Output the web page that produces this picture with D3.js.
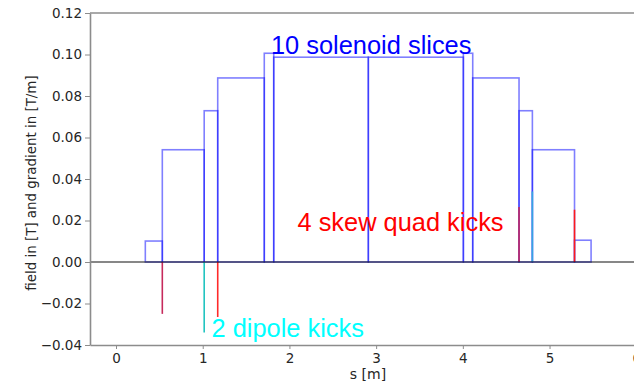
<!DOCTYPE html>
<html>
<head>
<meta charset="utf-8">
<script src="https://cdn.jsdelivr.net/npm/d3@7/dist/d3.min.js"></script>
<style>
  html, body { margin: 0; padding: 0; background: #fff; }
  svg { display: block; }
</style>
</head>
<body>
<svg id="chart" width="634" height="383"></svg>
<script>
// ---- data ----
const sliceStart = [0.338, 0.534, 1.017, 1.173, 1.710, 1.819, 2.910, 4.006, 4.114, 4.648, 4.802, 5.288];
const sliceEnd   = [0.534, 1.017, 1.173, 1.710, 1.819, 2.910, 4.006, 4.114, 4.648, 4.802, 5.288, 5.479];
const sliceField = [0.0101, 0.0541, 0.0729, 0.0887, 0.1006, 0.0987, 0.0987, 0.1006, 0.0887, 0.0729, 0.0541, 0.0105];

const dipoleS = [1.017, 4.802];
const dipoleK = [-0.034, 0.034];
const dipoleColor = ["#22c4c0", "#36a6e0"];

const skewS = [0.534, 1.173, 4.648, 5.288];
const skewK = [-0.025, -0.0265, 0.0265, 0.0252];
const skewColor = ["#c62a5c", "#ff2a2a", "#c62a5c", "#ff1a1a"];

const xTicks = [0, 1, 2, 3, 4, 5, 6];
const yTicks = [-0.04, -0.02, 0.00, 0.02, 0.04, 0.06, 0.08, 0.10, 0.12];
const yTickLabels = ["\u22120.04", "\u22120.02", "0.00", "0.02", "0.04", "0.06", "0.08", "0.10", "0.12"];

const labels = {
  solenoid: "10 solenoid slices",
  skew: "4 skew quad kicks",
  dipole: "2 dipole kicks",
  xLabel: "s [m]",
  yLabel: "field in [T] and gradient in [T/m]"
};

// ---- scales ----
const svg = d3.select("#chart");
const x = d3.scaleLinear().domain([-0.30, 6.35]).range([90, 666.6]);
const y = d3.scaleLinear().domain([-0.04, 0.12]).range([345, 13]);

const tickFont = "DejaVu Sans, sans-serif";
const annFont = "Liberation Sans, Arial, sans-serif";
const spineColor = "#8c8c8c";

// ---- solenoid slices (rectangles) ----
svg.append("g").selectAll("rect")
  .data(sliceField.map((f, i) => ({ s0: sliceStart[i], s1: sliceEnd[i], f })))
  .join("rect")
  .attr("x", d => x(d.s0))
  .attr("width", d => x(d.s1) - x(d.s0))
  .attr("y", d => y(d.f))
  .attr("height", d => y(0) - y(d.f))
  .attr("fill", "none")
  .attr("stroke", "#0000ff")
  .attr("stroke-opacity", 0.5)
  .attr("stroke-width", 1.6);

// ---- kicks ----
svg.append("g").selectAll("line.skew")
  .data(skewS.map((s, i) => ({ s, k: skewK[i], c: skewColor[i] })))
  .join("line")
  .attr("class", "skew")
  .attr("x1", d => x(d.s)).attr("x2", d => x(d.s))
  .attr("y1", y(0)).attr("y2", d => y(d.k))
  .attr("stroke", d => d.c)
  .attr("stroke-width", 1.6);

svg.append("g").selectAll("line.dip")
  .data(dipoleS.map((s, i) => ({ s, k: dipoleK[i], c: dipoleColor[i] })))
  .join("line")
  .attr("class", "dip")
  .attr("x1", d => x(d.s)).attr("x2", d => x(d.s))
  .attr("y1", y(0)).attr("y2", d => y(d.k))
  .attr("stroke", d => d.c)
  .attr("stroke-width", 1.6);

// ---- zero line ----
svg.append("line")
  .attr("x1", x.range()[0]).attr("x2", x.range()[1])
  .attr("y1", y(0)).attr("y2", y(0))
  .attr("stroke", "#111")
  .attr("stroke-width", 1.2);

// ---- axes ----
const yAxis = d3.axisLeft(y)
  .tickValues(yTicks)
  .tickFormat((d, i) => yTickLabels[i])
  .tickSizeInner(5).tickSizeOuter(0).tickPadding(3);
const gy = svg.append("g").attr("transform", `translate(${x.range()[0]},0)`).call(yAxis);

const xAxis = d3.axisBottom(x)
  .tickValues(xTicks)
  .tickFormat(d3.format("d"))
  .tickSizeInner(4).tickSizeOuter(0).tickPadding(4);
const gx = svg.append("g").attr("transform", `translate(0,${y.range()[0]})`).call(xAxis);

[gx, gy].forEach(g => {
  g.select(".domain").attr("stroke", spineColor).attr("stroke-width", 1.6);
  g.selectAll(".tick line").attr("stroke", spineColor).attr("stroke-width", 1);
  g.selectAll(".tick text")
    .attr("fill", "#262626")
    .style("font-family", tickFont)
    .style("font-size", "13.5px");
});

// top spine
svg.append("line")
  .attr("x1", x.range()[0]).attr("x2", x.range()[1])
  .attr("y1", y.range()[1]).attr("y2", y.range()[1])
  .attr("stroke", spineColor).attr("stroke-width", 1.6);

// axis labels
svg.append("text")
  .attr("x", 368).attr("y", 379)
  .attr("text-anchor", "middle")
  .style("font-family", tickFont).style("font-size", "14px")
  .attr("fill", "#262626")
  .text(labels.xLabel);

svg.append("text")
  .attr("transform", "translate(36,183) rotate(-90)")
  .attr("text-anchor", "middle")
  .style("font-family", tickFont).style("font-size", "13.4px")
  .attr("fill", "#262626")
  .text(labels.yLabel);

// annotations
svg.append("text")
  .attr("x", 271).attr("y", 54)
  .style("font-family", annFont).style("font-size", "25.4px")
  .attr("fill", "#0000ff")
  .text(labels.solenoid);

svg.append("text")
  .attr("x", 297.5).attr("y", 230.5)
  .style("font-family", annFont).style("font-size", "25.4px")
  .attr("fill", "#ff0000")
  .text(labels.skew);

svg.append("text")
  .attr("x", 211.5).attr("y", 336.5)
  .style("font-family", annFont).style("font-size", "25.4px")
  .attr("fill", "#00ffff")
  .text(labels.dipole);
</script>
</body>
</html>
